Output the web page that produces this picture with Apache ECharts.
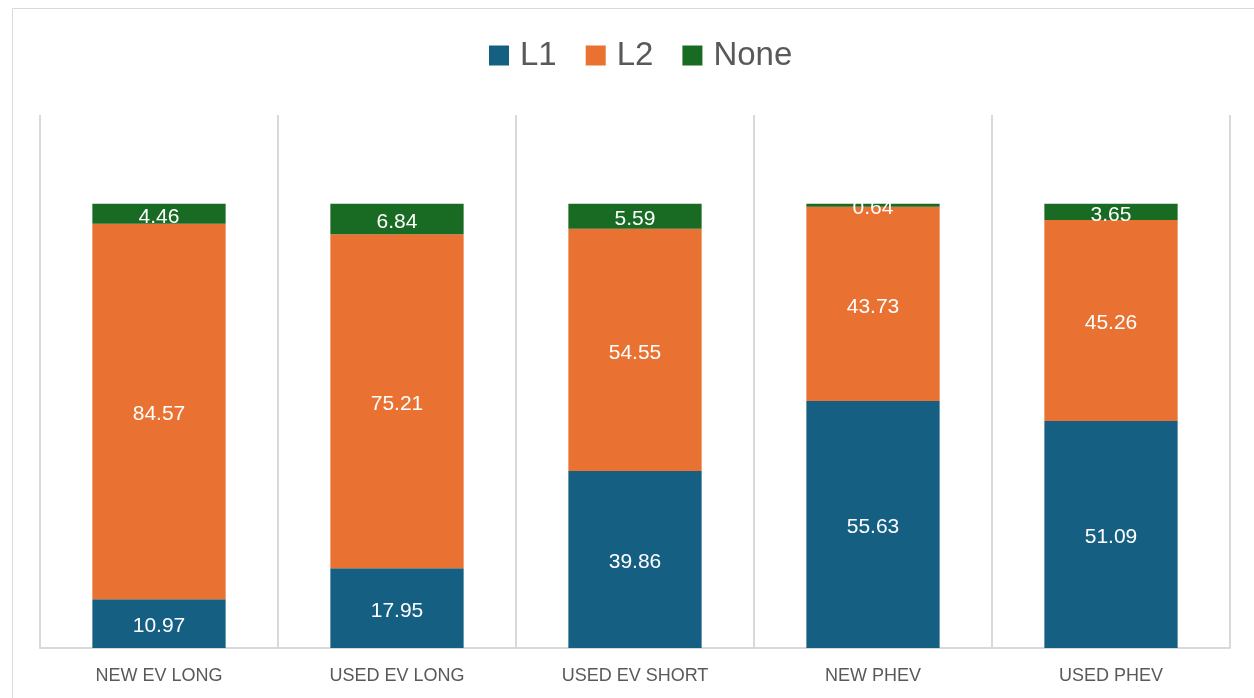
<!DOCTYPE html>
<html><head><meta charset="utf-8">
<script src="https://cdn.jsdelivr.net/npm/echarts@6/dist/echarts.min.js"></script>
<style>html,body{margin:0;padding:0;background:#fff}#c{width:1254px;height:698px}</style>
</head><body><div id="c"></div>
<script>
const categories = ["NEW EV LONG", "USED EV LONG", "USED EV SHORT", "NEW PHEV", "USED PHEV"];
const seriesNames = ["L1", "L2", "None"];
const l1Values = [10.97, 17.95, 39.86, 55.63, 51.09];
const l2Values = [84.57, 75.21, 54.55, 43.73, 45.26];
const noneValues = [4.46, 6.84, 5.59, 0.64, 3.65];
const colors = ["#156082", "#E97132", "#196B24"];
const values = [l1Values, l2Values, noneValues];

const chart = echarts.init(document.getElementById('c'), null, {renderer: 'canvas'});
chart.setOption({
  animation: false,
  backgroundColor: '#fff',
  graphic: [{type: 'rect', shape: {x: 12.5, y: 8.5, width: 1300, height: 800}, style: {fill: 'none', stroke: '#d9d9d9', lineWidth: 1}, silent: true, z: -1}],
  legend: {
    top: 34, left: 484, itemWidth: 20, itemHeight: 20, itemGap: 29,
    icon: 'rect',
    textStyle: {fontFamily: 'Liberation Sans', fontSize: 33, color: '#595959', padding: [0, 0, 0, 6]},
    data: seriesNames
  },
  grid: {left: 40, right: 24, top: 115, bottom: 50},
  xAxis: {
    type: 'category', data: categories,
    axisLine: {show: true, lineStyle: {color: '#d9d9d9', width: 2}},
    axisTick: {show: false},
    splitLine: {show: true, lineStyle: {color: '#d9d9d9', width: 2}},
    axisLabel: {fontFamily: 'Liberation Sans', fontSize: 18, color: '#595959', margin: 19}
  },
  yAxis: {type: 'value', min: 0, max: 120, show: false, splitLine: {show: false}},
  series: seriesNames.map((n, i) => ({
    name: n, type: 'bar', stack: 'total', barWidth: '56%', data: values[i],
    itemStyle: {color: colors[i]},
    label: {show: true, position: 'inside', offset: [0, 3], color: '#fff', fontFamily: 'Liberation Sans', fontSize: 21,
      formatter: p => p.value.toFixed(2)}
  }))
});
</script></body></html>
